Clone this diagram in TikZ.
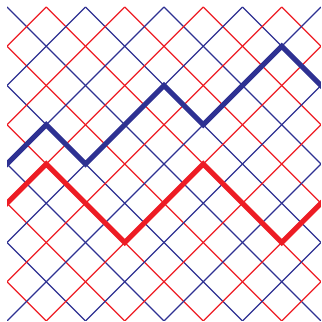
\documentclass[tikz,border=0pt]{standalone}
\definecolor{gblue}{RGB}{46,49,146}
\definecolor{gred}{RGB}{237,28,36}
\tikzset{
  thinline/.style={line width=1.6pt},
  thickline/.style={line width=7.2pt, line join=miter},
}
\begin{document}
\begin{tikzpicture}[x=0.05cm,y=-0.05cm]
\useasboundingbox (0,0) rectangle (321,322);
\begin{scope}[shift={(7,7)}, x=1.9625cm, y=-1.9625cm]
  \clip (0,0) rectangle (8,8);
  % down-right family i-j=k
  \foreach \k in {-7,...,7}{
    \pgfmathtruncatemacro{\pty}{mod(abs(\k),2)}
    \ifnum\pty=0 \def\col{gblue}\else\def\col{gred}\fi
    \ifnum\k<0
      \draw[thinline,\col] (0,-\k) -- ({8+\k},8);
    \else
      \draw[thinline,\col] (\k,0) -- (8,{8-\k});
    \fi
  }
  % down-left family i+j=k
  \foreach \k in {1,...,15}{
    \pgfmathtruncatemacro{\pty}{mod(\k,2)}
    \ifnum\pty=0 \def\col{gblue}\else\def\col{gred}\fi
    \ifnum\k>8
      \draw[thinline,\col] (8,{\k-8}) -- ({\k-8},8);
    \else
      \draw[thinline,\col] (\k,0) -- (0,\k);
    \fi
  }
  % thick paths
  \draw[thickline,gblue] (-0.2,4.2) -- (0,4) -- (1,3) -- (2,4) -- (4,2) -- (5,3) -- (7,1) -- (8,2) -- (8.2,2.2);
  \draw[thickline,gred] (-0.2,5.2) -- (0,5) -- (1,4) -- (3,6) -- (5,4) -- (7,6) -- (8,5) -- (8.2,4.8);
\end{scope}
\end{tikzpicture}
\end{document}
